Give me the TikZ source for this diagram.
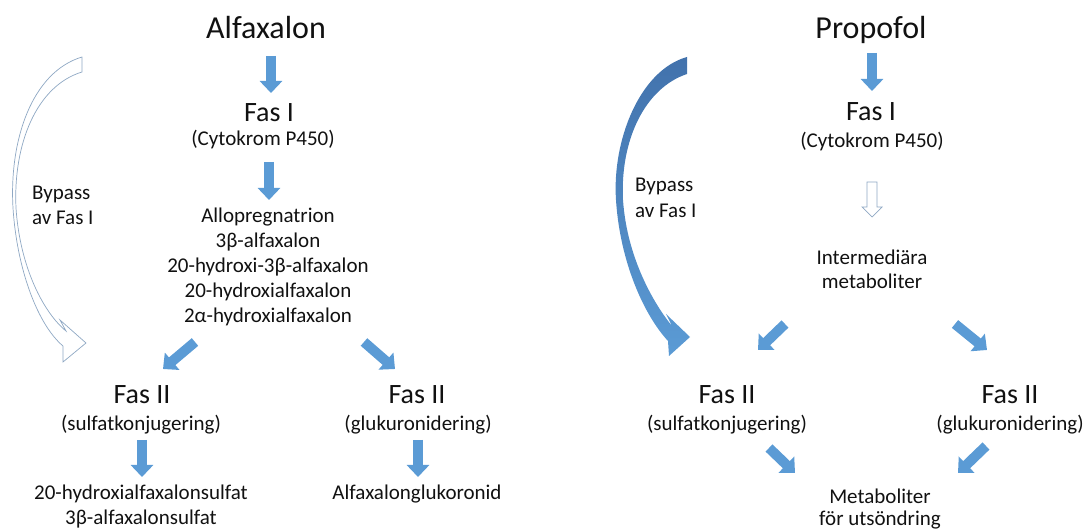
\documentclass[tikz,border=0pt]{standalone}
\usepackage{fontspec}
\setmainfont{Carlito}
\usetikzlibrary{arrows.meta}
\definecolor{ablue}{HTML}{5B9BD5}
\definecolor{dblue}{HTML}{4272AC}
\definecolor{ogray}{HTML}{8FA8C4}
\definecolor{txt}{HTML}{111111}
\begin{document}
\begin{tikzpicture}[x=1pt,y=-1pt,
  every node/.style={inner sep=0pt, anchor=base, text=txt},
  title/.style={font=\fontsize{32}{38}\selectfont},
  fas/.style={font=\fontsize{28}{34}\selectfont},
  small/.style={font=\fontsize{21}{25}\selectfont},
  blk/.style={draw=ablue, line width=10pt, -{Triangle[width=22pt,length=12pt]}},
  hollow/.style={draw=ogray, fill=white, line width=0.7pt},
]
\useasboundingbox (0,0) rectangle (1088,529);

% ---------------- Alfaxalon ----------------
\node[title] (alf) at (266,39) {Alfaxalon};
\node[fas] (fas1a) at (269,122) {Fas I};
\node[small] (cyta) at (263,146) {(Cytokrom P450)};
\node[small] (l1) at (268,223) {Allopregnatrion};
\node[small] (l2) at (268,248) {3β-alfaxalon};
\node[small] (l3) at (268,273) {20-hydroxi-3β-alfaxalon};
\node[small] (l4) at (268,298) {20-hydroxialfaxalon};
\node[small] (l5) at (268,323) {2α-hydroxialfaxalon};
\node[fas] (fas2a) at (142,404) {Fas II};
\node[small] (sulfa) at (141,431) {(sulfatkonjugering)};
\node[small] (s1) at (141,500) {20-hydroxialfaxalonsulfat};
\node[small] (s2) at (141,524) {3β-alfaxalonsulfat};
\node[fas] (fas2b) at (417,404) {Fas II};
\node[small] (gluka) at (418,431) {(glukuronidering)};
\node[small] (alfgl) at (417,500) {Alfaxalonglukoronid};
\node[small, anchor=base west] (bpa1) at (32,200) {Bypass};
\node[small, anchor=base west] (bpa2) at (32,225) {av Fas I};

\coordinate (a1s) at (271,56);  \coordinate (a1e) at (271,93);
\coordinate (a2s) at (269,162); \coordinate (a2e) at (269,200);
\coordinate (a3s) at (195,342); \coordinate (a3e) at (163,369);
\coordinate (a4s) at (364,342); \coordinate (a4e) at (395,369);
\coordinate (a5s) at (142,440); \coordinate (a5e) at (142,477);
\coordinate (a6s) at (418,440); \coordinate (a6e) at (418,477);
\draw[blk] (a1s) -- (a1e);
\draw[blk] (a2s) -- (a2e);
\draw[blk] (a3s) -- (a3e);
\draw[blk] (a4s) -- (a4e);
\draw[blk] (a5s) -- (a5e);
\draw[blk] (a6s) -- (a6e);

% outline bypass arrow
\draw[hollow, line join=miter]
  (82,57) .. controls (32,72) and (9,140) .. (13,208)
  .. controls (17,270) and (38,325) .. (63,346)
  -- (63,362) -- (86,343) -- (60,320) -- (66,331)
  .. controls (44,313) and (20,268) .. (16,208)
  .. controls (13,145) and (36,86) .. (82,72) -- cycle;

% ---------------- Propofol ----------------
\node[title] (prop) at (871,39) {Propofol};
\node[fas] (fas1b) at (871,121) {Fas I};
\node[small] (cytb) at (872,148) {(Cytokrom P450)};
\node[small] (im1) at (872,265) {Intermediära};
\node[small] (im2) at (872,289) {metaboliter};
\node[fas] (fas2c) at (727,404) {Fas II};
\node[small] (sulfb) at (727,431) {(sulfatkonjugering)};
\node[fas] (fas2d) at (1010,404) {Fas II};
\node[small] (glukb) at (1010,431) {(glukuronidering)};
\node[small] (met1) at (880,503) {Metaboliter};
\node[small] (met2) at (880,525) {för utsöndring};
\node[small, anchor=base west] (bpb1) at (635,192) {Bypass};
\node[small, anchor=base west] (bpb2) at (635,218) {av Fas I};

\coordinate (b1s) at (872,53);  \coordinate (b1e) at (872,91);
\coordinate (b3s) at (785,324); \coordinate (b3e) at (758,350);
\coordinate (b4s) at (955,324); \coordinate (b4e) at (987,350);
\coordinate (b5s) at (769,448); \coordinate (b5e) at (795,473);
\coordinate (b6s) at (986,446); \coordinate (b6e) at (958,473);
\draw[blk] (b1s) -- (b1e);
\draw[blk] (b3s) -- (b3e);
\draw[blk] (b4s) -- (b4e);
\draw[blk] (b5s) -- (b5e);
\draw[blk] (b6s) -- (b6e);

% hollow small arrow
\draw[hollow, line join=miter]
  (867,182) -- (877,182) -- (877,207) -- (882,207) -- (872,217)
  -- (862,207) -- (867,207) -- cycle;

% filled bypass arrow
\shade[top color=dblue, bottom color=ablue, draw=none]
  (687,57) .. controls (640,70) and (612,140) .. (616,200)
  .. controls (620,262) and (644,315) .. (668,341)
  -- (669,356) -- (690,337) -- (666,314) -- (672,326)
  .. controls (654,304) and (627,258) .. (623,200)
  .. controls (620,140) and (645,88) .. (687,74) -- cycle;
\end{tikzpicture}
\end{document}
